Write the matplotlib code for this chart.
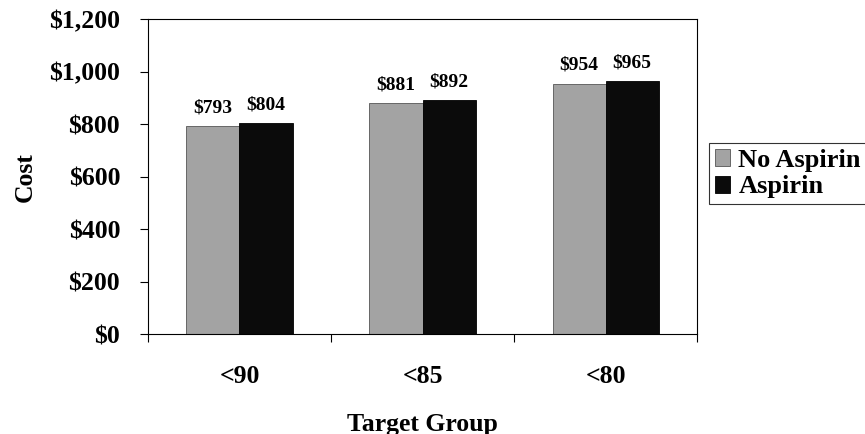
import numpy as np
import matplotlib.pyplot as plt
from matplotlib.ticker import FuncFormatter, FixedLocator

groups = ["<90", "<85", "<80"]
no_aspirin = [793, 881, 954]
aspirin = [804, 892, 965]
series_names = ["No Aspirin", "Aspirin"]

plt.rcParams["font.family"] = ["Liberation Serif", "DejaVu Serif"]
plt.rcParams["font.weight"] = "bold"

fig = plt.figure(figsize=(8.65, 4.34), dpi=100)
ax = fig.add_axes([0.171, 0.230, 0.635, 0.726])

x = np.arange(len(groups))
w = 0.29
b1 = ax.bar(x - w / 2, no_aspirin, w, color="#a3a3a3", edgecolor="#555555",
            linewidth=0.6, label=series_names[0])
b2 = ax.bar(x + w / 2, aspirin, w, color="#0b0b0b", edgecolor="#000000",
            linewidth=0.6, label=series_names[1])

# value labels above each bar
for bars in (b1, b2):
    for r in bars:
        ax.annotate(f"${r.get_height():,.0f}",
                    (r.get_x() + r.get_width() / 2, r.get_height()),
                    xytext=(0, 7), textcoords="offset points",
                    ha="center", va="bottom", fontsize=14, fontweight="bold")

ax.set_xlim(-0.5, len(groups) - 0.5)
ax.set_ylim(0, 1200)
ax.set_yticks(np.arange(0, 1201, 200))
ax.yaxis.set_major_formatter(FuncFormatter(lambda v, p: f"${v:,.0f}"))
ax.set_xticks(x)
ax.set_xticklabels(groups)
# tick marks sit between the categories
ax.xaxis.set_minor_locator(FixedLocator(np.arange(-0.5, len(groups), 1.0)))
ax.tick_params(axis="x", which="major", length=0, pad=22, labelsize=18.5)
ax.tick_params(axis="x", which="minor", length=6, direction="out", width=0.8)
ax.tick_params(axis="y", length=6, direction="out", width=0.8, labelsize=18.5, pad=14)
for lab in ax.get_xticklabels() + ax.get_yticklabels():
    lab.set_fontweight("bold")

for s in ax.spines.values():
    s.set_linewidth(0.8)

ax.set_ylabel("Cost", fontsize=18.5, fontweight="bold", labelpad=9)
ax.set_xlabel("Target Group", fontsize=18.5, fontweight="bold", labelpad=18)

leg = ax.legend(loc="upper left", bbox_to_anchor=(1.022, 0.606), frameon=True,
                fancybox=False, edgecolor="black", fontsize=19,
                handlelength=0.6, handleheight=0.6, handletextpad=0.3,
                borderpad=0.2, labelspacing=0.15, borderaxespad=0)
leg.get_frame().set_linewidth(0.8)
for t in leg.get_texts():
    t.set_fontweight("bold")

plt.savefig("out.png", dpi=100)
plt.close()
